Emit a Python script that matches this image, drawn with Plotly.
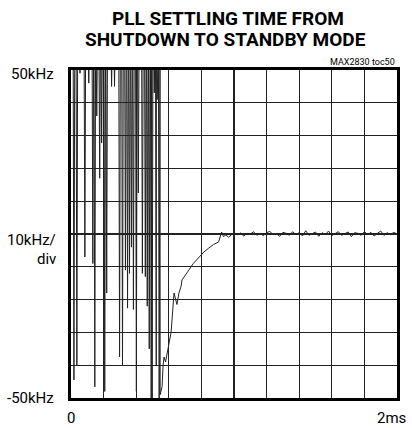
import plotly.graph_objects as go

# Oscillation phase: spike times (ms) and spike minima (kHz); between spikes the trace runs off the top
spike_t = [0.018, 0.036, 0.055, 0.085, 0.109, 0.134, 0.146, 0.158, 0.176, 0.188,
           0.207, 0.219, 0.249, 0.267, 0.298, 0.316, 0.334, 0.347, 0.359, 0.371,
           0.383, 0.401, 0.413, 0.438, 0.456, 0.468, 0.480, 0.492, 0.498, 0.511,
           0.523, 0.529, 0.541]
spike_min = [-44.5, -40, 49, -7, 46, -9, -46.6, 36, 17, 27.8,
             -48, -18, 45, 45, -37.5, -40, -11, -22.6, -12, -4,
             -23, -48, 12.5, -12, -13, -22, -35, -50, -50, 43,
             -40, 41, -50]
over_top = 62  # trace leaves the screen above +50 kHz

# Recovery phase
rec_t = [0.547, 0.559, 0.565, 0.571, 0.580, 0.590, 0.602, 0.614, 0.632, 0.650,
         0.662, 0.675, 0.681, 0.700, 0.723, 0.750, 0.784, 0.815, 0.845, 0.875,
         0.906, 0.915, 0.924, 0.935, 0.950, 0.967]
rec_v = [-49, -46.5, -40, -37.5, -39, -36, -33, -30, -18, -21.5,
         -18, -16, -14, -12.5, -11, -9, -7, -5.5, -4.3, -3.2,
         -2.4, -1.2, 0.6, -0.8, -0.3, -1.0]

# Settled phase (small residual noise around 0 kHz)
flat_t = [0.98 + 0.02 * i for i in range(52)]
flat_v = [-0.4, 0.5, -0.2, 0.3, -0.6, 0.2, 0.0, 0.7, -0.4, 0.2,
          -0.5, 0.4, 0.8, -0.2, 0.1, -0.7, 0.5, 0.2, -0.4, 0.7,
          -0.2, 0.4, -0.6, 1.0, -0.4, 0.2, 0.6, -0.7, 0.4, -0.2,
          0.9, -0.5, 0.2, 0.7, -0.4, 0.0, 0.6, -0.8, 0.4, 0.2,
          -0.4, 0.7, -0.2, 0.5, -0.6, 0.2, 0.9, -0.4, 0.4, -0.2,
          0.5, 0.0]

xs, ys = [0.0], [over_top]
for t, m in zip(spike_t, spike_min):
    xs += [t - 0.005, t, t + 0.005]
    ys += [over_top, m, over_top]
xs += rec_t + flat_t
ys += rec_v + flat_v

fig = go.Figure()
fig.add_trace(go.Scatter(x=xs, y=ys, mode="lines",
                         line=dict(color="#222222", width=1), hoverinfo="skip"))

font_n = "Roboto, Liberation Sans, sans-serif"

fig.update_layout(
    width=412, height=428,
    margin=dict(l=71, r=12, t=70, b=30),
    paper_bgcolor="white", plot_bgcolor="white",
    showlegend=False,
    xaxis=dict(range=[0, 2], dtick=0.2, showticklabels=False, ticks="",
               showgrid=True, gridcolor="#222222", gridwidth=1.2,
               zeroline=False, showline=True, linecolor="black", linewidth=3, mirror=True),
    yaxis=dict(range=[-50, 50], dtick=10, showticklabels=False, ticks="",
               showgrid=True, gridcolor="#222222", gridwidth=1.2,
               zeroline=False, showline=True, linecolor="black", linewidth=3, mirror=True),
)

ann = [
    dict(text="<b>PLL SETTLING TIME FROM</b>", x=229, y=18,
         font=dict(size=19, family=font_n, color="black", weight=900), xanchor="center", yanchor="middle"),
    dict(text="<b>SHUTDOWN TO STANDBY MODE</b>", x=227, y=40,
         font=dict(size=19, family=font_n, color="black", weight=900), xanchor="center", yanchor="middle"),
    dict(text="MAX2830 toc50", x=400, y=69, font=dict(size=9, family=font_n, color="black"),
         xanchor="right", yanchor="bottom"),
    dict(text="50kHz", x=56, y=74, font=dict(size=15, family=font_n, color="black"),
         xanchor="right", yanchor="middle"),
    dict(text="10kHz/", x=58, y=240, font=dict(size=15, family=font_n, color="black"),
         xanchor="right", yanchor="middle"),
    dict(text="div", x=58, y=259, font=dict(size=15, family=font_n, color="black"),
         xanchor="right", yanchor="middle"),
    dict(text="-50kHz", x=56, y=398, font=dict(size=15, family=font_n, color="black"),
         xanchor="right", yanchor="middle"),
    dict(text="0", x=71, y=418, font=dict(size=15, family=font_n, color="black"),
         xanchor="center", yanchor="middle"),
    dict(text="2ms", x=411, y=418, font=dict(size=15, family=font_n, color="black"),
         xanchor="right", yanchor="middle"),
]
annotations = []
for a in ann:
    a = dict(a)
    a["x"] = (a["x"] - 71) / 329
    a["y"] = (428 - 30 - a["y"]) / 328
    a.update(xref="paper", yref="paper", showarrow=False)
    annotations.append(a)
fig.update_layout(annotations=annotations)

fig.write_html("out.html", config={"displayModeBar": False, "staticPlot": True},
               post_script="document.body.style.margin='0';")
